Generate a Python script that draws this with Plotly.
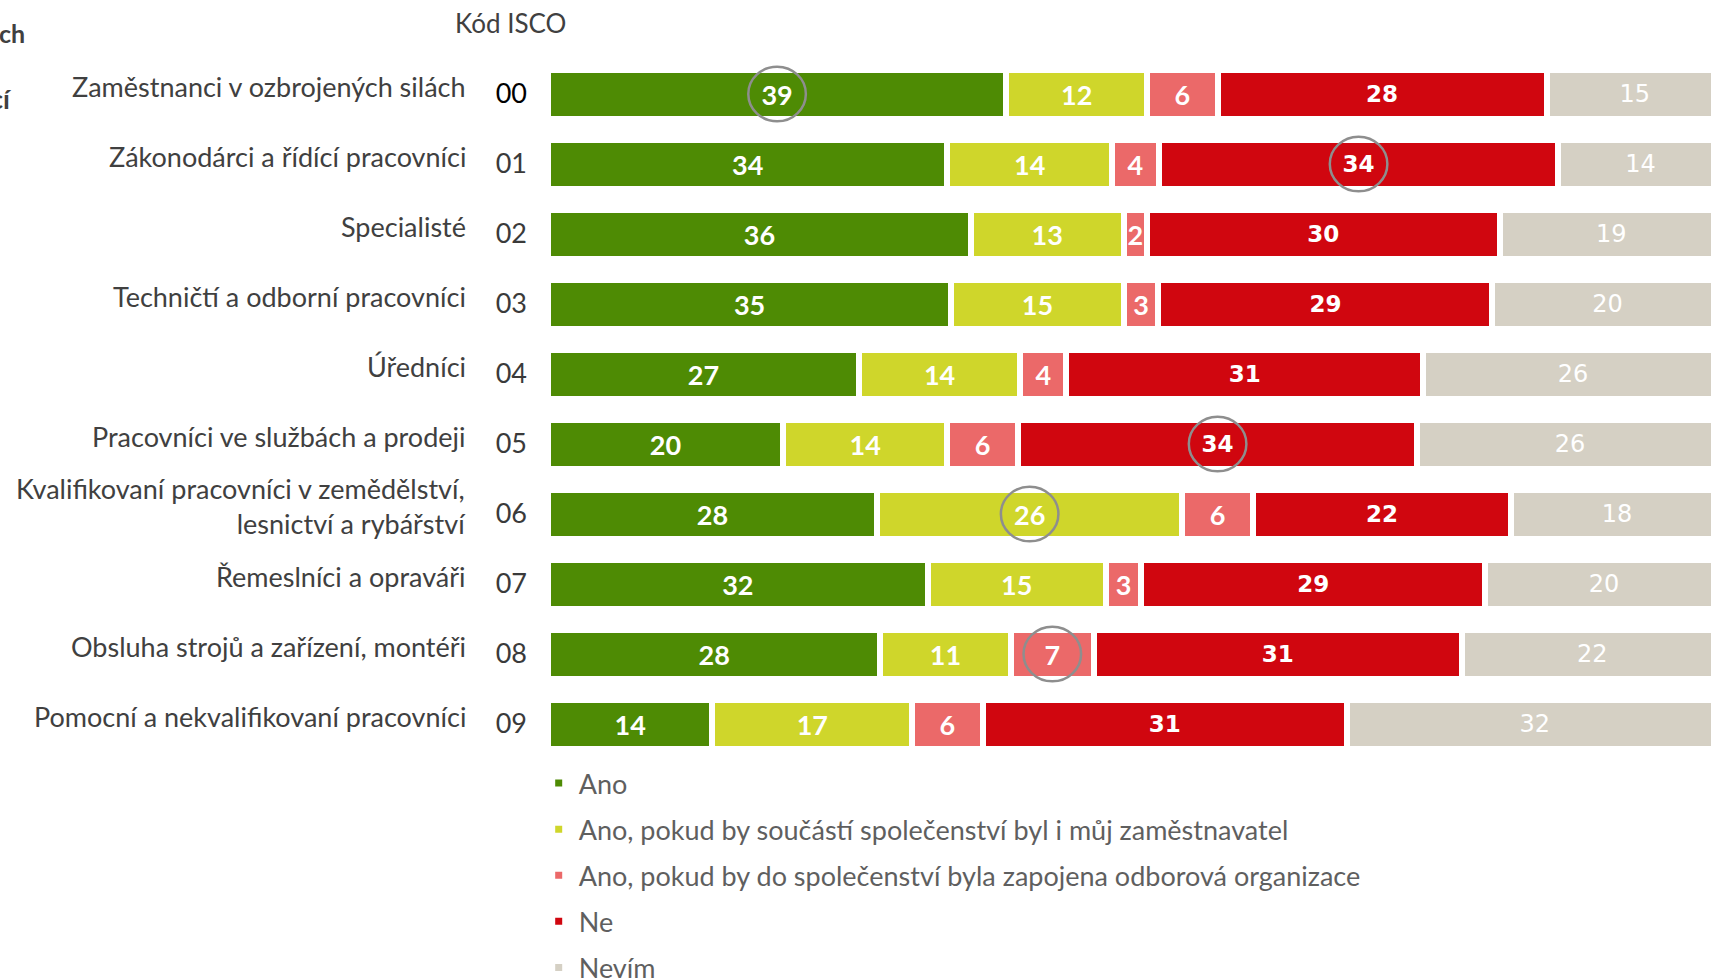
import plotly.graph_objects as go

codes = ["00", "01", "02", "03", "04", "05", "06", "07", "08", "09"]
names = [
    "Zaměstnanci v ozbrojených silách",
    "Zákonodárci a řídící pracovníci",
    "Specialisté",
    "Techničtí a odborní pracovníci",
    "Úředníci",
    "Pracovníci ve službách a prodeji",
    "Kvalifikovaní pracovníci v zemědělství,<br>lesnictví a rybářství",
    "Řemeslníci a opraváři",
    "Obsluha strojů a zařízení, montéři",
    "Pomocní a nekvalifikovaní pracovníci",
]
series_names = [
    "Ano",
    "Ano, pokud by součástí společenství byl i můj zaměstnavatel",
    "Ano, pokud by do společenství byla zapojena odborová organizace",
    "Ne",
    "Nevím",
]
ano = [39, 34, 36, 35, 27, 20, 28, 32, 28, 14]
ano_zam = [12, 14, 13, 15, 14, 14, 26, 15, 11, 17]
ano_odb = [6, 4, 2, 3, 4, 6, 6, 3, 7, 6]
ne = [28, 34, 30, 29, 31, 34, 22, 29, 31, 31]
nevim = [15, 14, 19, 20, 26, 26, 18, 20, 22, 32]
series_values = [ano, ano_zam, ano_odb, ne, nevim]
colors = ["#4E8B04", "#CFD62B", "#EB6969", "#D0060F", "#D5D0C4"]
# highlighted (row index, series index) pairs circled in the chart
highlights = [(0, 0), (1, 3), (5, 3), (6, 1), (8, 2)]

label_fonts = [
    dict(family="Lato", size=27, color="white", weight="bold"),
    dict(family="Lato", size=27, color="white", weight="bold"),
    dict(family="Lato", size=27, color="white", weight="bold"),
    dict(family="DejaVu Sans", size=23, color="white", weight="bold"),
    dict(family="DejaVu Sans", size=24, color="white"),
]

ypos = list(range(len(codes)))
fig = go.Figure()
for k, (nm, vals) in enumerate(zip(series_names, series_values)):
    fig.add_trace(go.Bar(
        y=ypos, x=vals, orientation="h", name=nm,
        marker=dict(color=colors[k], line=dict(color="white", width=6)),
        width=0.7,
        text=[str(v) for v in vals], texttemplate="%{text}",
        textposition="inside", insidetextanchor="middle", textangle=0,
        constraintext="none", textfont=label_fonts[k],
        legendgroup=f"g{k}", hoverinfo="skip",
    ))

# circles around highlighted values, centred on the (normalised) segment
shapes = []
for (r, s) in highlights:
    total = sum(sv[r] for sv in series_values)
    cum = sum(series_values[j][r] for j in range(s)) * 100.0 / total
    mid = cum + series_values[s][r] * 100.0 / total / 2
    shapes.append(dict(type="circle", xref="x", yref="y",
                       x0=mid - 2.45, x1=mid + 2.45, y0=r - 0.39, y1=r + 0.39,
                       line=dict(color="#8E8E8E", width=2.5), layer="above"))

annotations = []
for i, nm in enumerate(names):
    annotations.append(dict(xref="paper", yref="y", x=0, y=i, text=nm,
                            xanchor="right", yanchor="middle", align="right",
                            xshift=-80, yshift=8, showarrow=False,
                            font=dict(family="Lato", size=27, color="#404040")))
annotations.append(dict(xref="paper", yref="paper", x=0, y=1, text="Kód ISCO",
                        xanchor="left", yanchor="middle", xshift=-95, yshift=36,
                        showarrow=False,
                        font=dict(family="Lato", size=26, color="#404040")))
annotations.append(dict(xref="paper", yref="paper", x=0, y=1, text="ch",
                        xanchor="right", yanchor="middle", xshift=-521, yshift=26,
                        showarrow=False,
                        font=dict(family="Lato", size=25, color="#404040", weight="bold")))
annotations.append(dict(xref="paper", yref="paper", x=0, y=1, text="cí",
                        xanchor="right", yanchor="middle", xshift=-534, yshift=-39,
                        showarrow=False,
                        font=dict(family="Lato", size=27, color="#404040", weight="bold")))

ticktext = [f'<span style="color:#000">{c}</span>' if i == 0 else c for i, c in enumerate(codes)]

fig.update_layout(
    width=1711, height=978,
    margin=dict(l=548, r=0, t=59, b=219, autoexpand=False),
    paper_bgcolor="white", plot_bgcolor="white",
    barmode="stack", barnorm="percent",
    showlegend=True,
    legend=dict(orientation="v", x=-0.008, xanchor="left", y=0.0, yanchor="top",
                traceorder="grouped", tracegroupgap=8,
                font=dict(family="Lato", size=27, color="#5F5F5F"),
                bgcolor="rgba(0,0,0,0)"),
    shapes=shapes, annotations=annotations,
    xaxis=dict(range=[0, 99], visible=False, fixedrange=True, automargin=False),
    yaxis=dict(range=[9.5, -0.5], tickvals=ypos, ticktext=ticktext,
               showgrid=False, zeroline=False, showline=False, ticks="",
               ticklabelstandoff=20, automargin=False, fixedrange=True,
               tickfont=dict(family="Lato", size=27, color="#3A3A3A")),
)

fig.write_html(
    "out.html",
    config={"displayModeBar": False},
    post_script="document.body.style.margin='0';document.body.style.overflow='hidden';",
)
